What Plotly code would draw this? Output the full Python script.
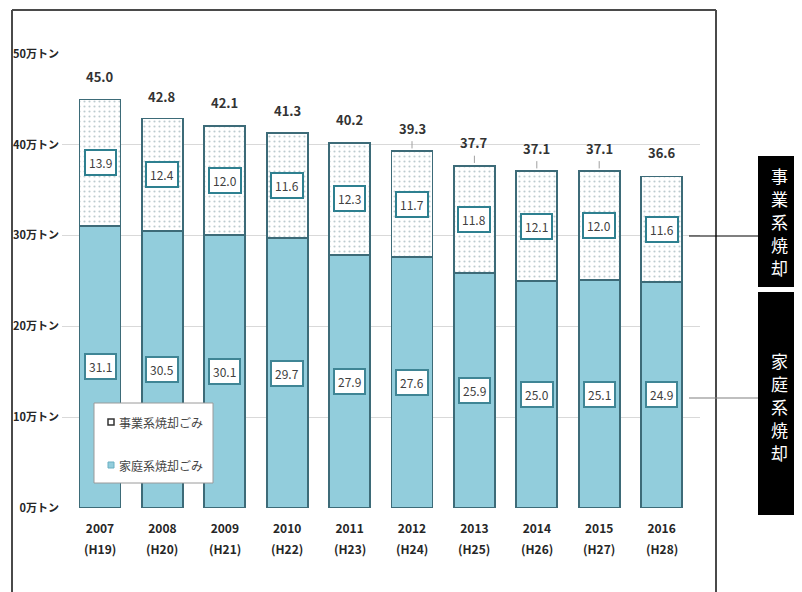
import plotly.graph_objects as go

years = ["2007", "2008", "2009", "2010", "2011", "2012", "2013", "2014", "2015", "2016"]
heisei = ["(H19)", "(H20)", "(H21)", "(H22)", "(H23)", "(H24)", "(H25)", "(H26)", "(H27)", "(H28)"]
household = [31.1, 30.5, 30.1, 29.7, 27.9, 27.6, 25.9, 25.0, 25.1, 24.9]
business = [13.9, 12.4, 12.0, 11.6, 12.3, 11.7, 11.8, 12.1, 12.0, 11.6]
totals = [45.0, 42.8, 42.1, 41.3, 40.2, 39.3, 37.7, 37.1, 37.1, 36.6]
ytick_vals = [0, 10, 20, 30, 40, 50]
ytick_text = ["0万トン", "10万トン", "20万トン", "30万トン", "40万トン", "50万トン"]
legend_names = ["事業系焼却ごみ", "家庭系焼却ごみ"]
side_labels = ["事業系焼却", "家庭系焼却"]

OFF = 8  # page body margin
W, H = 802 - OFF, 592 - OFF
ML, MT = 62 - OFF, 54 - OFF
MR = W - (700 - OFF)
MB = H - (508 - OFF)
PW = W - ML - MR
PH = H - MT - MB
FONT = "Noto Sans CJK JP"
TXT = "#262626"

def pxx(px):
    return (px - OFF - ML) / PW

def pxy(py):
    return (H - MB - (py - OFF)) / PH

xs = list(range(len(years)))
step = 62.4
c0 = 100 - OFF

fig = go.Figure()
fig.add_trace(go.Bar(
    x=xs, y=household, name=legend_names[1], width=0.66,
    marker=dict(color="#92CDDC", line=dict(color="#3D6B78", width=1.8)),
    showlegend=False, hoverinfo="skip",
))
fig.add_trace(go.Bar(
    x=xs, y=business, name=legend_names[0], width=0.66,
    marker=dict(color="white", line=dict(color="#3D6B78", width=1.8),
                pattern=dict(shape=".", fgcolor="#7A97A0", bgcolor="white",
                             size=5, solidity=0.15)),
    showlegend=False, hoverinfo="skip",
))

ann = []
for i in xs:
    ann.append(dict(x=i, y=household[i] / 2, xref="x", yref="y",
                    xanchor="center", yanchor="middle",
                    text=f"{household[i]:.1f}", showarrow=False,
                    font=dict(family=FONT, size=12, color="#404040"),
                    bgcolor="white", bordercolor="#3F8595", borderwidth=2, borderpad=3))
    ann.append(dict(x=i, y=household[i] + business[i] / 2, xref="x", yref="y",
                    xanchor="center", yanchor="middle",
                    text=f"{business[i]:.1f}", showarrow=False,
                    font=dict(family=FONT, size=12, color="#404040"),
                    bgcolor="white", bordercolor="#2E8090", borderwidth=2, borderpad=3))
    ann.append(dict(x=i, y=totals[i], xref="x", yref="y", yshift=23,
                    xanchor="center", yanchor="middle",
                    text=f"<b>{totals[i]:.1f}</b>", showarrow=False,
                    font=dict(family=FONT, size=13, color="#333333")))
    ann.append(dict(x=i, y=pxy(548), xref="x", yref="paper",
                    xanchor="center", yanchor="middle",
                    text=f"<b>{heisei[i]}</b>", showarrow=False,
                    font=dict(family=FONT, size=12, color=TXT)))

# side labels, one character per line, stacked vertically
for label, cy in zip(side_labels, [221, 406]):
    n = len(label)
    for k, ch in enumerate(label):
        py = cy + (k - (n - 1) / 2) * 23
        ann.append(dict(x=pxx(779), y=pxy(py), xref="paper", yref="paper",
                        xanchor="center", yanchor="middle",
                        text=ch, showarrow=False,
                        font=dict(family=FONT, size=17, color="white")))

# custom legend texts
ann.append(dict(x=pxx(117), y=pxy(422), xref="paper", yref="paper",
                xanchor="left", yanchor="middle",
                text=legend_names[0], showarrow=False,
                font=dict(family=FONT, size=12, color="#444444")))
ann.append(dict(x=pxx(117), y=pxy(465), xref="paper", yref="paper",
                xanchor="left", yanchor="middle",
                text=legend_names[1], showarrow=False,
                font=dict(family=FONT, size=12, color="#444444")))

shapes = []
frame_col = "#4A4A4A"
shapes.append(dict(type="line", xref="paper", yref="paper", x0=pxx(12), x1=pxx(12),
                   y0=pxy(10), y1=pxy(600), line=dict(color=frame_col, width=2)))
shapes.append(dict(type="line", xref="paper", yref="paper", x0=pxx(12), x1=pxx(716),
                   y0=pxy(10), y1=pxy(10), line=dict(color=frame_col, width=2)))
shapes.append(dict(type="line", xref="paper", yref="paper", x0=pxx(716), x1=pxx(716),
                   y0=pxy(10), y1=pxy(600), line=dict(color=frame_col, width=2)))
# black boxes
shapes.append(dict(type="rect", xref="paper", yref="paper", x0=pxx(758), x1=pxx(800),
                   y0=pxy(156), y1=pxy(287), fillcolor="black", line=dict(width=0)))
shapes.append(dict(type="rect", xref="paper", yref="paper", x0=pxx(758), x1=pxx(800),
                   y0=pxy(292), y1=pxy(515), fillcolor="black", line=dict(width=0)))
# connector lines
shapes.append(dict(type="line", xref="paper", yref="paper", x0=pxx(689), x1=pxx(758),
                   y0=pxy(236), y1=pxy(236), line=dict(color="black", width=1.2)))
shapes.append(dict(type="line", xref="paper", yref="paper", x0=pxx(689), x1=pxx(758),
                   y0=pxy(398), y1=pxy(398), line=dict(color="#808080", width=1.2)))
# small leader ticks above some totals
for i in [5, 6, 7, 8]:
    shapes.append(dict(type="line", xref="x", yref="y", x0=i, x1=i,
                       y0=totals[i] + 0.3, y1=totals[i] + 1.1,
                       line=dict(color="#A0A0A0", width=1)))
# legend box
shapes.append(dict(type="rect", xref="paper", yref="paper", x0=pxx(94), x1=pxx(213),
                   y0=pxy(403), y1=pxy(483), fillcolor="white",
                   line=dict(color="#9A9A9A", width=1)))
shapes.append(dict(type="rect", xref="paper", yref="paper", x0=pxx(108), x1=pxx(114),
                   y0=pxy(419), y1=pxy(425), fillcolor="white",
                   line=dict(color="#333333", width=1.5)))
shapes.append(dict(type="rect", xref="paper", yref="paper", x0=pxx(108), x1=pxx(114),
                   y0=pxy(462), y1=pxy(468), fillcolor="#92CDDC",
                   line=dict(color="#6AAFC2", width=1)))

fig.update_layout(
    width=W, height=H,
    margin=dict(l=ML, r=MR, t=MT, b=MB),
    paper_bgcolor="white", plot_bgcolor="white",
    barmode="stack",
    font=dict(family=FONT),
    annotations=ann,
    shapes=shapes,
    xaxis=dict(tickmode="array", tickvals=xs, ticktext=[f"<b>{y}</b>" for y in years],
               range=[(ML - c0) / step, (W - MR - c0) / step],
               showgrid=False, zeroline=False, showline=False, ticks="",
               ticklabelstandoff=12, automargin=False,
               tickfont=dict(family=FONT, size=12, color=TXT)),
    yaxis=dict(range=[0, 50], tickmode="array", tickvals=ytick_vals, ticktext=ytick_text,
               showgrid=True, gridcolor="#D9D9D9", gridwidth=1, zeroline=False,
               showline=False, ticks="", ticklabelstandoff=2, automargin=False,
               tickfont=dict(family=FONT, size=11, color=TXT, weight="bold")),
)

fig.write_html("out.html")
